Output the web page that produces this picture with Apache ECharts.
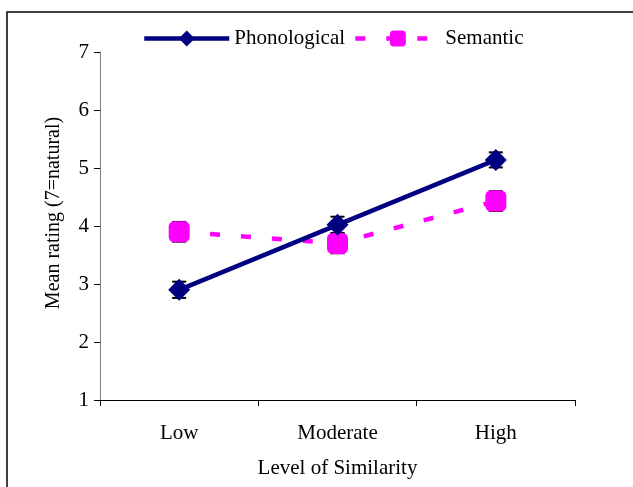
<!DOCTYPE html>
<html>
<head>
<meta charset="utf-8">
<script src="https://cdn.jsdelivr.net/npm/echarts@6/dist/echarts.min.js"></script>
<style>
html,body{margin:0;padding:0;background:#fff;}
#chart{width:633px;height:487px;}
</style>
</head>
<body>
<div id="chart"></div>
<script>
var categories = ['Low', 'Moderate', 'High'];
var phonological = [2.9, 4.02, 5.14];
var semantic = [3.9, 3.7, 4.43];
var phonologicalErr = [0.14, 0.14, 0.13];
var semanticErr = [0.17, 0.17, 0.17];
var yTicks = [1, 2, 3, 4, 5, 6, 7];

var FONT = 'Liberation Serif';

function errorSeries(name, values, errs) {
  var data = values.map(function (v, i) { return [i, v - errs[i], v + errs[i]]; });
  return {
    type: 'custom',
    name: name + ' err',
    data: data,
    z: 1,
    silent: true,
    renderItem: function (params, api) {
      var x = api.value(0);
      var lo = api.coord([x, api.value(1)]);
      var hi = api.coord([x, api.value(2)]);
      var hw = 7;
      var st = { stroke: '#000', lineWidth: 2 };
      return {
        type: 'group',
        children: [
          { type: 'line', shape: { x1: lo[0], y1: lo[1], x2: hi[0], y2: hi[1] }, style: st },
          { type: 'line', shape: { x1: lo[0] - hw, y1: lo[1], x2: lo[0] + hw, y2: lo[1] }, style: st },
          { type: 'line', shape: { x1: hi[0] - hw, y1: hi[1], x2: hi[0] + hw, y2: hi[1] }, style: st }
        ]
      };
    }
  };
}

var chart = echarts.init(document.getElementById('chart'), null, { renderer: 'canvas' });
chart.setOption({
  backgroundColor: '#fff',
  animation: false,
  textStyle: { fontFamily: FONT, color: '#000' },
  graphic: [{
    type: 'rect',
    shape: { x: 7, y: 12, width: 2000, height: 2000 },
    style: { fill: 'none', stroke: '#000', lineWidth: 1.5 },
    z: -10
  }],
  legend: {
    top: 23,
    left: 137,
    itemWidth: 85,
    itemHeight: 20,
    itemGap: 8,
    lineStyle: { width: 4.5 },
    textStyle: { fontFamily: FONT, fontSize: 21, color: '#000' },
    data: ['Phonological', 'Semantic']
  },
  grid: { left: 100, top: 52, right: 58, bottom: 87 },
  xAxis: {
    type: 'category',
    data: categories,
    boundaryGap: true,
    axisLine: { lineStyle: { color: '#000', width: 1 } },
    axisTick: { show: true, length: 6, lineStyle: { color: '#000' } },
    axisLabel: { fontFamily: FONT, fontSize: 21, color: '#000', margin: 23 },
    name: 'Level of Similarity',
    nameLocation: 'middle',
    nameGap: 58,
    nameTextStyle: { fontFamily: FONT, fontSize: 21, color: '#000' }
  },
  yAxis: {
    type: 'value',
    min: 1,
    max: 7,
    interval: 1,
    splitLine: { show: false },
    axisLine: { show: true, lineStyle: { color: '#808080', width: 1 } },
    axisTick: { show: true, length: 6, lineStyle: { color: '#000' } },
    axisLabel: {
      fontFamily: FONT, fontSize: 21, color: '#000', margin: 11,
      formatter: function (v) { return yTicks.indexOf(v) >= 0 ? String(v) : ''; }
    },
    name: 'Mean rating (7=natural)',
    nameLocation: 'middle',
    nameRotate: 90,
    nameGap: 36,
    nameTextStyle: { fontFamily: FONT, fontSize: 20, color: '#000', padding: [0, 0, 0, 26] }
  },
  series: [
    errorSeries('Phonological', phonological, phonologicalErr),
    errorSeries('Semantic', semantic, semanticErr),
    {
      name: 'Semantic',
      type: 'line',
      data: semantic,
      z: 3,
      symbol: 'roundRect',
      symbolSize: 21,
      itemStyle: { color: '#FF00FF' },
      lineStyle: { color: '#FF00FF', width: 4.5, type: [10, 21] }
    },
    {
      name: 'Phonological',
      type: 'line',
      data: phonological,
      z: 4,
      symbol: 'diamond',
      symbolSize: 22,
      itemStyle: { color: '#000080' },
      lineStyle: { color: '#000080', width: 4.5 }
    }
  ]
});
</script>
</body>
</html>
